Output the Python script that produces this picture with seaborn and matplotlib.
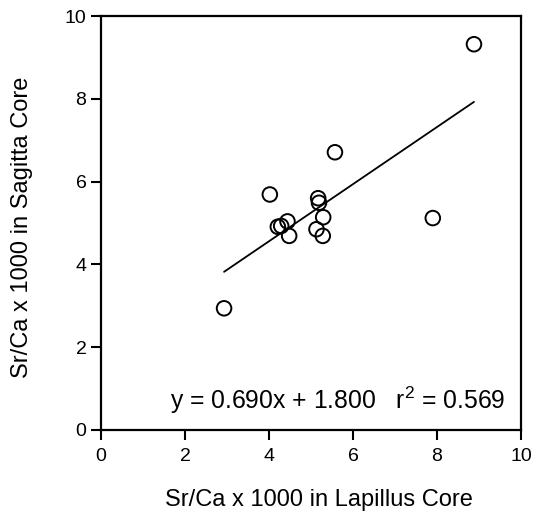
import numpy as np
import pandas as pd
import matplotlib
matplotlib.use('Agg')
import matplotlib.pyplot as plt
import seaborn as sns

# Sr/Ca x 1000 values
lapillus = [2.93, 4.02, 4.21, 4.29, 4.44, 4.48, 5.13, 5.17, 5.19, 5.28, 5.29, 5.57, 7.90, 8.88]
sagitta = [2.94, 5.69, 4.91, 4.93, 5.04, 4.69, 4.85, 5.60, 5.49, 4.69, 5.14, 6.71, 5.12, 9.32]

slope = 0.690
intercept = 1.800
r_squared = 0.569

df = pd.DataFrame({'Lapillus': lapillus, 'Sagitta': sagitta})

sns.set_style('ticks', {'text.color': 'black', 'axes.labelcolor': 'black'})
plt.rcParams['font.family'] = ['Liberation Sans', 'DejaVu Sans']
plt.rcParams['mathtext.fontset'] = 'custom'
plt.rcParams['mathtext.rm'] = 'Liberation Sans'

fig = plt.figure(figsize=(5.33, 5.19), dpi=100)
ax = fig.add_axes([0.1895, 0.1715, 0.788, 0.7975])

# linia regresji w zakresie danych
fit_x = np.array([min(lapillus), max(lapillus)])
fit = pd.DataFrame({'x': fit_x, 'y': slope * fit_x + intercept})
sns.lineplot(data=fit, x='x', y='y', color='black', linewidth=1.3, ax=ax)

sns.scatterplot(data=df, x='Lapillus', y='Sagitta', s=110, facecolor='none',
                edgecolor='black', linewidth=1.4, ax=ax, zorder=3)

ax.set_xlim(0, 10)
ax.set_ylim(0, 10)
ax.set_xticks([0, 2, 4, 6, 8, 10])
ax.set_yticks([0, 2, 4, 6, 8, 10])
ax.tick_params(direction='out', length=7, width=1.5, labelsize=14, colors='black')
ax.tick_params(axis='x', pad=6)
for sp in ax.spines.values():
    sp.set_visible(True)
    sp.set_linewidth(1.6)
    sp.set_color('black')

ax.set_xlabel('Sr/Ca x 1000 in Lapillus Core', fontsize=17, color='black')
ax.set_ylabel('Sr/Ca x 1000 in Sagitta Core', fontsize=17, color='black')
ax.xaxis.set_label_coords(0.519, -0.143)
ax.yaxis.set_label_coords(-0.162, 0.489)

ax.text(0.962, 0.072, f'y = {slope:.3f}x + {intercept:.3f}   r$^2$ = {r_squared:.3f}',
        transform=ax.transAxes, ha='right', va='center', fontsize=17.8, color='black')

fig.savefig('out.png', dpi=100)
